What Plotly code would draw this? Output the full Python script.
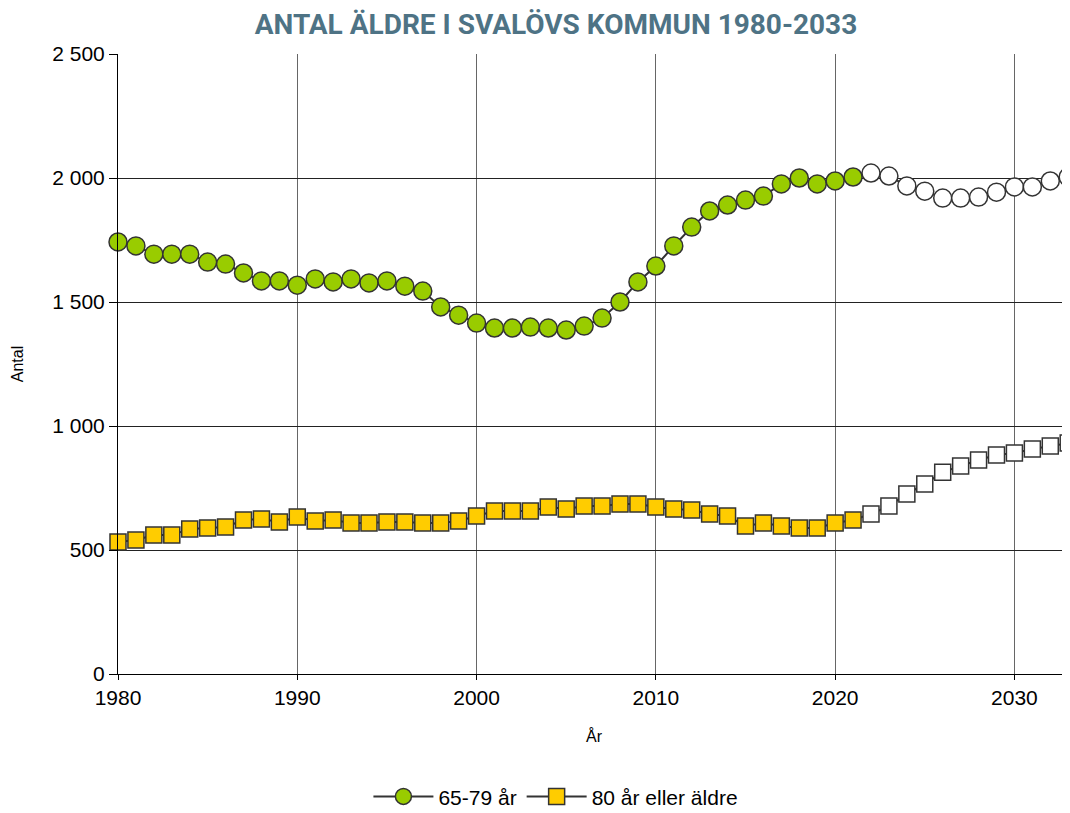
import plotly.graph_objects as go

# Data (projection from 2022 onwards)
years = list(range(1980, 2034))
age_65_79 = [1742, 1726, 1693, 1693, 1693, 1661, 1653, 1617, 1585, 1585,
             1568, 1593, 1581, 1593, 1577, 1585, 1564, 1544, 1480, 1447,
             1415, 1395, 1395, 1399, 1395, 1387, 1403, 1435, 1500, 1581,
             1645, 1726, 1802, 1867, 1891, 1911, 1927, 1976, 2000, 1976,
             1988, 2004, 2020, 2008, 1968, 1947, 1919, 1919, 1923, 1943,
             1964, 1964, 1988, 2004]
age_80_plus = [532, 540, 560, 560, 585, 589, 593, 621, 625, 613,
               633, 617, 621, 609, 609, 613, 613, 609, 609, 617,
               637, 657, 657, 657, 673, 665, 677, 677, 685, 685,
               673, 665, 661, 645, 637, 597, 609, 597, 589, 589,
               609, 621, 645, 677, 726, 766, 814, 839, 863, 883,
               891, 907, 919, 931]
first_projection_year = 2022

green_fill = ["#99CC00" if y < first_projection_year else "white" for y in years]
yellow_fill = ["#FFCC00" if y < first_projection_year else "white" for y in years]

fig = go.Figure()
fig.add_trace(go.Scatter(
    x=years, y=age_65_79, name="65-79 år", mode="lines+markers",
    line=dict(color="#333333", width=2),
    marker=dict(symbol="circle", size=18, color=green_fill,
                line=dict(color="#333333", width=1.5)),
    cliponaxis=False
))
fig.add_trace(go.Scatter(
    x=years, y=age_80_plus, name="80 år eller äldre", mode="lines+markers",
    line=dict(color="#333333", width=2),
    marker=dict(symbol="square", size=16, color=yellow_fill,
                line=dict(color="#333333", width=1.5)),
    cliponaxis=False
))

# page body has an 8px margin, so the figure is a little smaller than the window
fig.update_layout(
    width=1062, height=805,
    margin=dict(l=110, r=0, t=46, b=139, autoexpand=False),
    paper_bgcolor="white", plot_bgcolor="white",
    separators=", ",
    font=dict(family="Liberation Sans, Arial, sans-serif", size=21, color="black"),
    title=dict(text="<b>ANTAL ÄLDRE I SVALÖVS KOMMUN 1980-2033</b>",
               x=0.516, xanchor="center", y=1, yanchor="top",
               pad=dict(t=6),
               font=dict(family="Roboto, Liberation Sans Narrow, sans-serif",
                         size=28, color="#4E7385")),
    legend=dict(orientation="h", x=0.46, xanchor="center", y=-0.198, yanchor="middle",
                font=dict(size=21), itemwidth=60),
    showlegend=True,
)

fig.update_xaxes(
    range=[1980, 2033.1], dtick=10, tick0=1980,
    showgrid=True, gridcolor="#666666", gridwidth=1,
    showline=True, linecolor="black", linewidth=1,
    ticks="outside", ticklen=5, tickcolor="black",
    title=dict(text="År", font=dict(size=16), standoff=22),
    zeroline=False, automargin=False,
)
fig.update_yaxes(
    range=[0, 2500], dtick=500,
    showgrid=True, gridcolor="#222222", gridwidth=1,
    showline=True, linecolor="black", linewidth=1,
    ticks="outside", ticklen=8, tickcolor="black",
    tickformat=",d",
    title=dict(text="Antal", font=dict(size=16), standoff=24),
    zeroline=False, automargin=False,
)

fig.write_html("out.html")
